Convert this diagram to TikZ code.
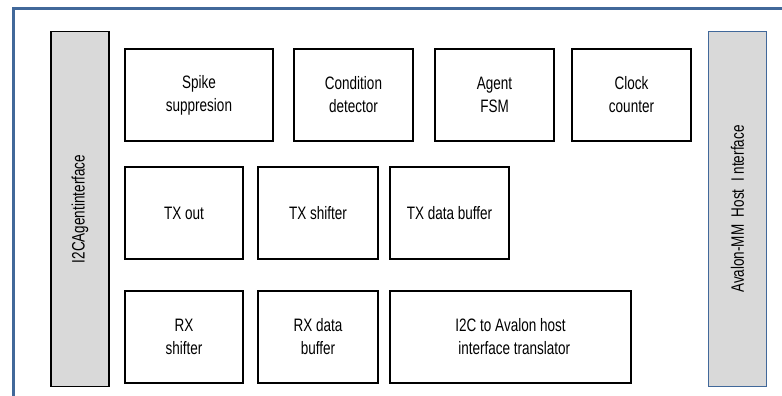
\documentclass[tikz,border=0pt]{standalone}
\usepackage{fontspec}
\setmainfont{Liberation Sans}[FakeStretch=0.75]
\definecolor{frameblue}{HTML}{41689A}
\definecolor{bargray}{HTML}{D9D9D9}

\begin{document}
\begin{tikzpicture}[
                x=1pt, y=-1pt,
                every node/.style={font=\fontsize{18}{23}\selectfont, align=center, line width=1.6pt},
                block/.style={draw=black, fill=white, minimum height=92pt},
                sidebar/.style={fill=bargray, minimum width=58pt, minimum height=355pt, inner sep=0pt}
            ]
                \useasboundingbox (0,0) rectangle (782,396);
                \clip (0,0) rectangle (782,396);
                
                % Outer frame (open to right and bottom)
                \draw[frameblue, line width=3pt] (13,410) -- (13,8.5) -- (800,8.5);
                
                % Side interfaces
                \node[sidebar, draw=black] (i2cif) at (80,209) {\rotatebox{90}{I2CAgentinterface}};
                \node[sidebar, draw=frameblue] (avif) at (737.5,209) {\rotatebox{90}{Avalon-MM\ \ Host\ \ I nterface}};
                
                % Top row
                \node[block, minimum width=148pt] (spike) at (199,95) {Spike\\suppresion};
                \node[block, minimum width=119pt] (cond) at (353.5,95) {Condition\\detector};
                \node[block, minimum width=119pt] (fsm) at (494.5,95) {Agent\\FSM};
                \node[block, minimum width=119pt] (clk) at (631.5,95) {Clock\\counter};
                
                % Middle row (TX)
                \node[block, minimum width=118pt] (txout) at (184,213) {TX out};
                \node[block, minimum width=120pt] (txshift) at (318,213) {TX shifter};
                \node[block, minimum width=119pt] (txbuf) at (449.5,213) {TX data buffer};
                
                % Bottom row (RX)
                \node[block, minimum width=118pt] (rxshift) at (184,337) {RX\\shifter};
                \node[block, minimum width=120pt] (rxbuf) at (318,337) {RX data\\buffer};
                \node[block, minimum width=241pt] (trans) at (510.5,337) {I2C to Avalon host\\\ \ interface translator};
            \end{tikzpicture}
\end{document}
